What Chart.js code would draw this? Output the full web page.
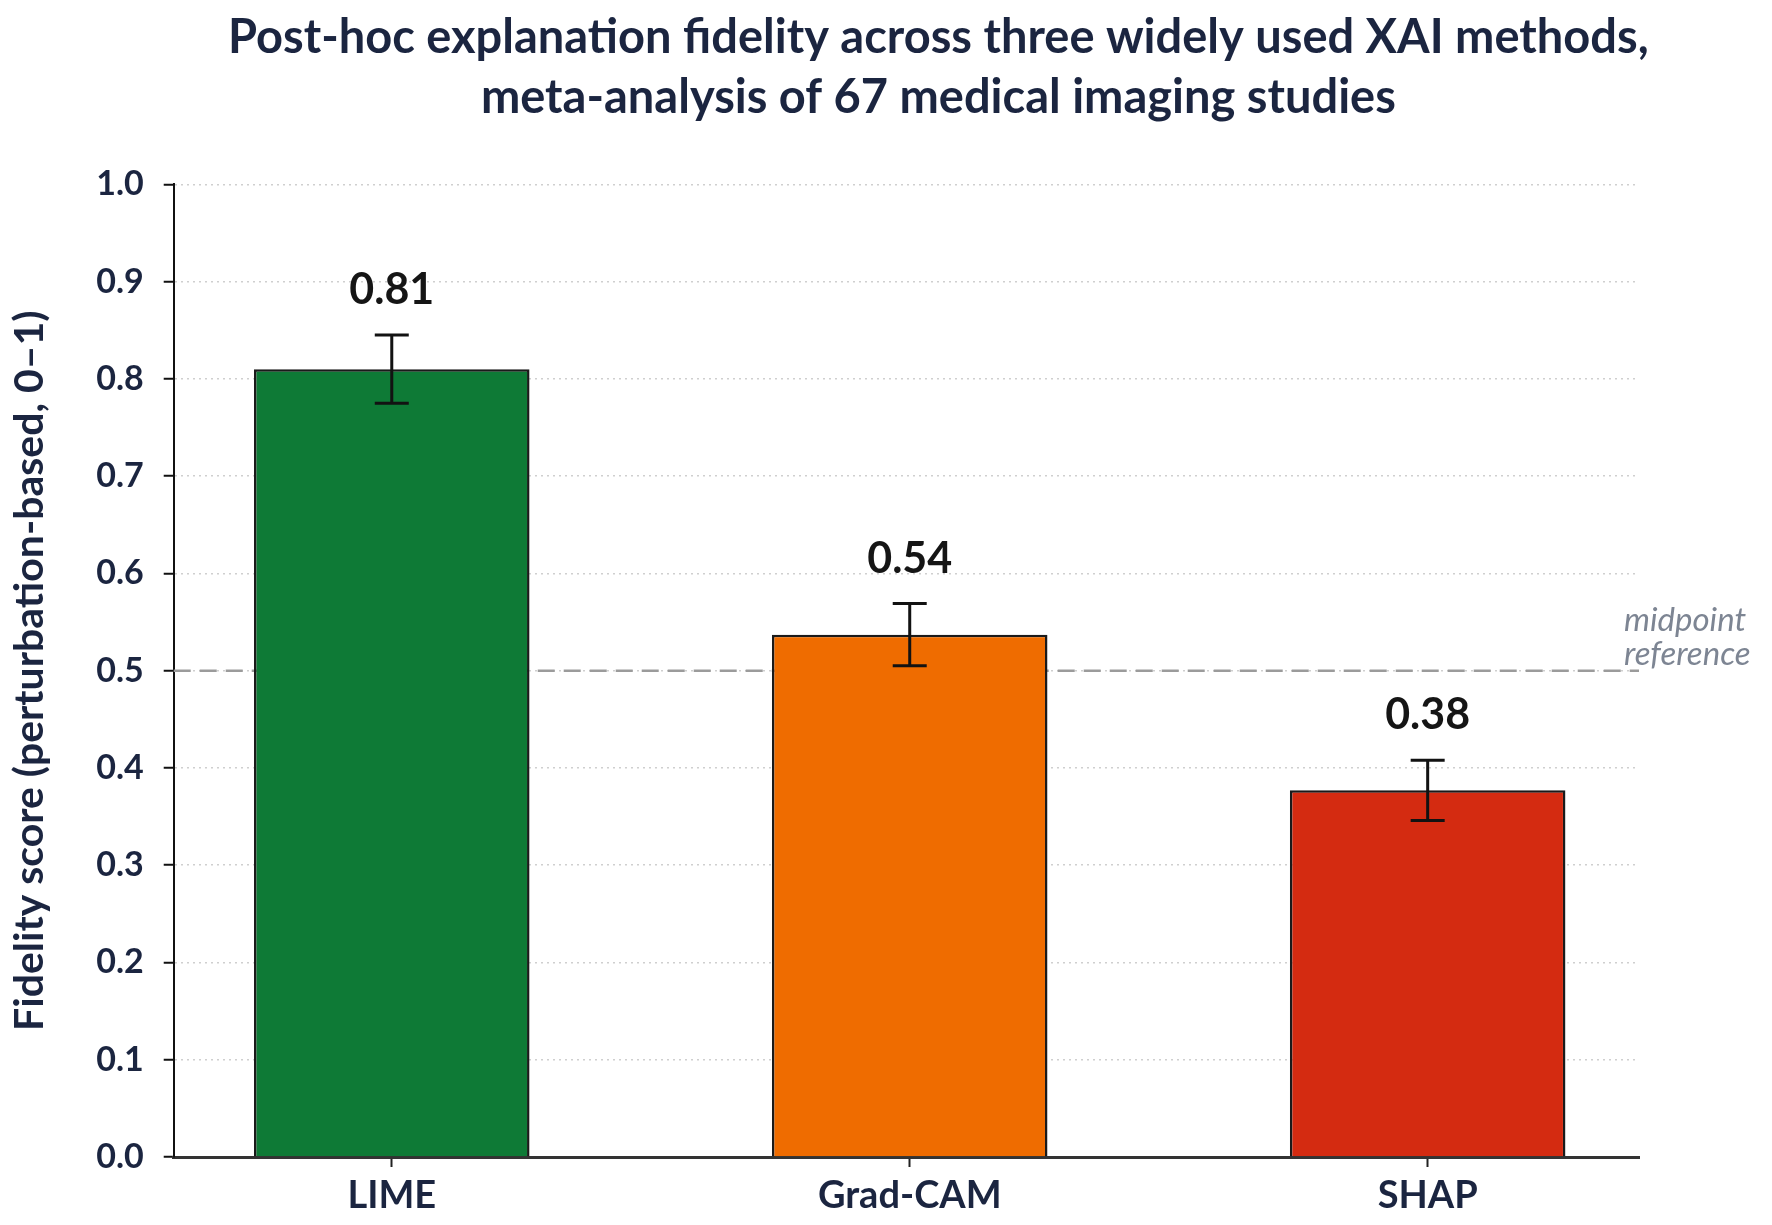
<!DOCTYPE html>
<html>
<head>
<meta charset="utf-8">
<script src="https://cdn.jsdelivr.net/npm/chart.js@4.4.1/dist/chart.umd.min.js"></script>
<style>
  html, body { margin: 0; padding: 0; background: #fff; }
  #wrap { width: 1772px; height: 1225px; }
</style>
</head>
<body>
<div id="wrap"><canvas id="chart"></canvas></div>
<script>
// data
const methods = ['LIME', 'Grad-CAM', 'SHAP'];
const xPositions = [0, 1, 2];
const fidelity = [0.81, 0.537, 0.377];
const fidelityErr = [0.035, 0.032, 0.031];
const barColors = ['#0e7a36', '#ef6c00', '#d42b11'];
const midpoint = 0.5;
const midpointLabel = ['midpoint', 'reference'];
const titleLines = [
  'Post-hoc explanation fidelity across three widely used XAI methods,',
  'meta-analysis of 67 medical imaging studies'
];
const yTitle = 'Fidelity score (perturbation-based, 0\u20131)';

Chart.defaults.font.family = 'Lato';

// midpoint line under the bars, error bars + value labels on top
const overlay = {
  id: 'overlay',
  afterLayout(chart) {
    // title sits a bit right of the plot centre in the original
    const mid = (chart.chartArea.left + chart.chartArea.right) / 2 + 32;
    chart.titleBlock.left = mid - 820;
    chart.titleBlock.right = mid + 820;
  },
  beforeDatasetsDraw(chart) {
    const { ctx, chartArea, scales: { y } } = chart;
    const py = y.getPixelForValue(midpoint);
    ctx.save();
    ctx.strokeStyle = '#9b9b9b';
    ctx.lineWidth = 2.5;
    ctx.setLineDash([17, 9]);
    ctx.beginPath();
    ctx.moveTo(chartArea.left, py);
    ctx.lineTo(chartArea.right, py);
    ctx.stroke();
    ctx.restore();
  },
  afterDatasetsDraw(chart) {
    const { ctx, chartArea, scales: { x, y } } = chart;
    ctx.save();
    ctx.strokeStyle = '#121212';
    ctx.lineWidth = 3;
    fidelity.forEach((v, i) => {
      const px = x.getPixelForValue(xPositions[i]);
      const top = y.getPixelForValue(v + fidelityErr[i]);
      const bot = y.getPixelForValue(v - fidelityErr[i]);
      ctx.beginPath();
      ctx.moveTo(px, top); ctx.lineTo(px, bot);
      ctx.moveTo(px - 17, top); ctx.lineTo(px + 17, top);
      ctx.moveTo(px - 17, bot); ctx.lineTo(px + 17, bot);
      ctx.stroke();

      ctx.fillStyle = '#151515';
      ctx.font = 'bold 43px Lato';
      ctx.textAlign = 'center';
      ctx.textBaseline = 'alphabetic';
      ctx.fillText(v.toFixed(2), px, top - 31);
    });

    const py = y.getPixelForValue(midpoint);
    ctx.font = 'italic 33px Lato';
    ctx.fillStyle = '#7d8593';
    ctx.textAlign = 'left';
    ctx.textBaseline = 'middle';
    ctx.fillText(midpointLabel[0], chartArea.right - 15, py - 50);
    ctx.fillText(midpointLabel[1], chartArea.right - 15, py - 16);
    ctx.restore();
  }
};

new Chart(document.getElementById('chart'), {
  type: 'bar',
  plugins: [overlay],
  data: {
    datasets: [{
      data: fidelity.map((v, i) => ({ x: xPositions[i], y: v })),
      backgroundColor: barColors,
      borderColor: '#1a1a1a',
      borderWidth: 2.5,
      categoryPercentage: 1,
      barPercentage: 0.532
    }]
  },
  options: {
    responsive: true,
    maintainAspectRatio: false,
    animation: false,
    layout: { padding: { top: 0, right: 133, bottom: 0, left: 5 } },
    plugins: {
      legend: { display: false },
      tooltip: { enabled: false },
      title: {
        display: true,
        text: titleLines,
        color: '#1b2540',
        font: { size: 47, weight: 'bold', lineHeight: 1.28 },
        padding: { top: 8, bottom: 56 }
      }
    },
    scales: {
      x: {
        type: 'linear',
        min: -0.421,
        max: 2.408,
        offset: false,
        afterBuildTicks: scale => {
          scale.ticks = xPositions.map(v => ({ value: v }));
        },
        ticks: {
          callback: v => methods[v],
          color: '#1b2540',
          font: { size: 38, weight: 'bold', lineHeight: 1.0 },
          padding: 10
        },
        grid: {
          offset: false,
          drawOnChartArea: false,
          drawTicks: true,
          tickLength: 10,
          tickColor: '#222',
          tickWidth: 2
        },
        border: { color: '#333', width: 3 }
      },
      y: {
        min: 0,
        max: 1,
        ticks: {
          stepSize: 0.1,
          callback: v => v.toFixed(1),
          color: '#1b2540',
          font: { size: 34, weight: 'bold' },
          padding: 20
        },
        grid: {
          color: '#cfcfcf',
          lineWidth: 1.5,
          tickColor: '#111',
          tickLength: 10,
          tickWidth: 2
        },
        border: { color: '#111', width: 2, dash: [2, 4] },
        title: {
          display: true,
          text: yTitle,
          color: '#1b2540',
          font: { size: 41, weight: 'bold' },
          padding: { top: 0, bottom: 22 }
        }
      }
    }
  }
});
</script>
</body>
</html>
